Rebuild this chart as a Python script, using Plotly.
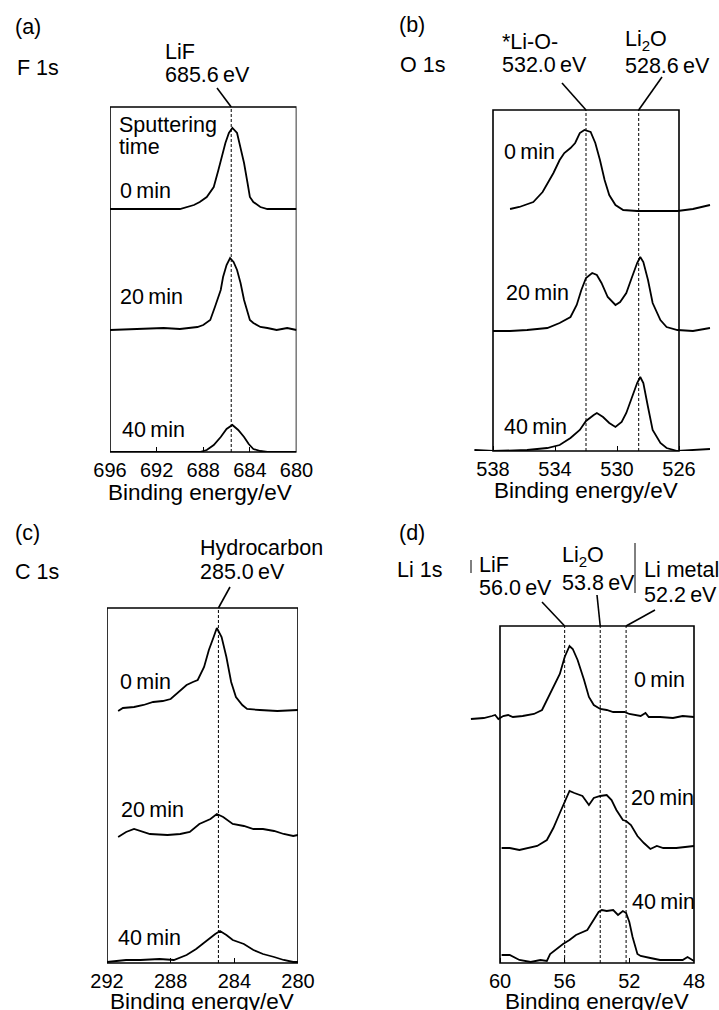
import plotly.graph_objects as go

W, H = 719, 1010
FONT = "Liberation Sans, Arial, sans-serif"

# ---------------- data (binding energy / eV, intensity a.u.) ----------------
times = ["0\u2009min", "20\u2009min", "40\u2009min"]

# (a) F 1s
f1s_0_ev = [696.0, 690.0, 688.8, 688.3, 687.7, 687.1, 686.7, 686.4, 686.1, 685.8, 685.5, 685.1, 684.8,
            684.5, 684.2, 684.0, 683.7, 683.1, 682.5, 680.0]
f1s_0_i = [0, 0, 4, 7, 12, 22, 39, 52, 66, 76, 81, 76, 62, 46, 26, 12, 7, 2, 0, 0]
f1s_20_ev = [696.0, 691.4, 690.0, 688.5, 688.0, 687.4, 687.0, 686.5, 686.3, 686.0, 685.7, 685.4, 685.1,
             684.8, 684.5, 684.2, 684.0, 683.7, 683.1, 682.5, 681.7, 680.8, 680.0]
f1s_20_i = [0, 2, 1, 3, 5, 10, 23, 40, 53, 65, 72, 68, 60, 47, 30, 17, 10, 7, 3, 2, 0, 2, 0]
f1s_40_ev = [696.0, 688.3, 687.7, 687.1, 686.5, 686.0, 685.5, 685.0, 684.5, 684.1, 683.7, 683.1, 682.5, 680.0]
f1s_40_i = [0, 0, 2, 7, 15, 23, 27, 22, 15, 8, 3, 1, 0, 0]
f1s_offsets = [243, 122, 0]
f1s_refs = [685.6]

# (b) O 1s
o1s_0_ev = [536.9, 536.3, 535.4, 534.8, 534.1, 533.7, 533.4, 533.0, 532.7, 532.4, 532.1, 531.7, 531.4,
            531.1, 530.8, 530.5, 530.1, 529.6, 528.7, 527.2, 526.1, 525.1, 524.0]
o1s_0_i = [1, 3, 8, 18, 37, 50, 57, 62, 67, 77, 80, 78, 67, 50, 30, 15, 5, 0, -1, -1, -1, 1, 5]
o1s_20_ev = [538.0, 536.9, 535.8, 534.5, 533.7, 533.0, 532.6, 532.3, 532.0, 531.6, 531.3, 531.0, 530.6,
             530.1, 529.8, 529.4, 529.1, 528.7, 528.5, 528.3, 528.0, 527.7, 527.2, 526.8, 526.1, 525.1, 524.0]
o1s_20_i = [0, 0, 1, 3, 8, 14, 26, 41, 53, 58, 56, 48, 34, 26, 29, 38, 51, 68, 74, 69, 51, 28, 11, 4, 1, 0, 3]
o1s_40_ev = [539.2, 538.0, 535.8, 534.5, 533.7, 533.0, 532.4, 532.0, 531.5, 531.3, 530.9, 530.5, 530.1,
             529.7, 529.4, 529.1, 528.7, 528.5, 528.3, 528.0, 527.7, 527.2, 526.8, 526.1, 525.1, 524.0]
o1s_40_i = [0, -1, 0, 2, 5, 12, 20, 29, 35, 37, 33, 27, 23, 28, 37, 50, 67, 73, 67, 43, 20, 7, 2, -1, 0, 1]
o1s_offsets = [241, 120, 1]
o1s_refs = [532.0, 528.6]

# (c) C 1s
c1s_0_ev = [291.3, 291.0, 290.3, 289.7, 289.1, 288.5, 288.0, 287.6, 287.0, 286.6, 286.3, 285.9, 285.6,
            285.3, 285.1, 284.8, 284.5, 284.2, 283.9, 283.5, 283.2, 282.4, 281.3, 280.0]
c1s_0_i = [-1, 2, 3, 5, 8, 9, 11, 17, 25, 28, 30, 43, 60, 73, 82, 73, 53, 28, 13, 5, 1, 0, -1, 0]
c1s_20_ev = [291.3, 290.8, 290.3, 289.9, 289.3, 288.2, 287.4, 286.8, 286.2, 285.5, 285.1, 284.7, 284.1,
             283.4, 282.8, 282.2, 281.5, 280.9, 280.3, 280.0]
c1s_20_i = [-2, 3, 6, 4, 1, 0, 1, 3, 11, 16, 21, 18, 11, 9, 6, 6, 4, 1, -1, 0]
c1s_40_ev = [292.0, 290.8, 289.9, 288.7, 287.8, 287.0, 286.4, 285.7, 285.2, 284.9, 284.5, 284.1, 283.4,
             282.8, 282.2, 281.5, 280.9, 280.3, 280.0]
c1s_40_i = [0, 2, 2, 3, 2, 7, 13, 22, 28, 31, 27, 22, 18, 12, 8, 5, 2, 0, 0]
c1s_offsets = [253, 128, 1]
c1s_refs = [285.0]

# (d) Li 1s
li1s_0_ev = [61.8, 61.0, 60.5, 60.3, 60.1, 59.8, 59.5, 59.2, 58.6, 57.9, 57.4, 57.1, 56.7, 56.3, 56.0,
             55.7, 55.5, 55.2, 54.8, 54.5, 54.2, 53.8, 53.4, 53.0, 52.3, 52.0, 51.3, 51.0, 50.8, 50.1,
             49.3, 48.7, 48.0]
li1s_0_i = [-2, -1, 1, 2, -2, 1, 2, 0, 1, 3, 7, 17, 30, 43, 60, 71, 68, 57, 37, 20, 12, 8, 7, 5, 5, 3,
            1, 4, 0, 0, -1, 1, 0]
li1s_20_ev = [59.9, 59.4, 58.8, 58.3, 57.7, 57.1, 56.7, 56.3, 56.0, 55.7, 55.4, 54.9, 54.5, 54.2, 53.8,
              53.4, 53.1, 52.8, 52.4, 52.2, 51.9, 51.5, 51.1, 50.7, 50.3, 49.9, 49.1, 48.0]
li1s_20_i = [0, 0, -2, 0, 2, 8, 20, 35, 47, 57, 55, 52, 43, 50, 52, 53, 48, 38, 28, 27, 23, 12, 5, -1,
             2, 0, 0, 2]
li1s_40_ev = [59.9, 59.4, 58.8, 58.1, 57.5, 57.1, 56.9, 56.5, 56.1, 55.7, 55.3, 54.6, 54.2, 53.9, 53.7,
              53.4, 53.0, 52.7, 52.4, 52.2, 52.0, 51.8, 51.5, 51.3, 50.7, 50.1, 49.3, 48.7, 48.4, 48.0]
li1s_40_i = [7, 7, 2, 0, 2, 1, 8, 13, 18, 22, 27, 32, 42, 50, 52, 51, 52, 47, 51, 49, 40, 25, 8, 6, 4,
             2, 2, 2, 5, 1]
li1s_offsets = [246, 115, 1]
li1s_refs = [56.0, 53.8, 52.2]

ticks_a = [696, 692, 688, 684, 680]
ticks_b = [538, 534, 530, 526]
ticks_c = [292, 288, 284, 280]
ticks_d = [60, 56, 52, 48]

# ---------------- layout geometry (pixels) ----------------
panels = [
    dict(sfx="", box_ev=(696, 680), box_px=(110, 296.5), dom_px=(110, 296.5), ytop=107, ybot=452,
         ticks=ticks_a, series=[(f1s_0_ev, f1s_0_i), (f1s_20_ev, f1s_20_i), (f1s_40_ev, f1s_40_i)],
         offsets=f1s_offsets, refs=f1s_refs,
         leaders=[(217, 88)], title_x=200, title_y=492),
    dict(sfx="2", box_ev=(538, 526), box_px=(493, 679), dom_px=(474, 712), ytop=110, ybot=451,
         ticks=ticks_b, series=[(o1s_0_ev, o1s_0_i), (o1s_20_ev, o1s_20_i), (o1s_40_ev, o1s_40_i)],
         offsets=o1s_offsets, refs=o1s_refs,
         leaders=[(562, 83), (662, 77)], title_x=586, title_y=490),
    dict(sfx="3", box_ev=(292, 280), box_px=(107, 298), dom_px=(107, 298), ytop=608, ybot=963,
         ticks=ticks_c, series=[(c1s_0_ev, c1s_0_i), (c1s_20_ev, c1s_20_i), (c1s_40_ev, c1s_40_i)],
         offsets=c1s_offsets, refs=c1s_refs,
         leaders=[(230, 587)], title_x=202, title_y=1001),
    dict(sfx="4", box_ev=(60, 48), box_px=(500, 694), dom_px=(470, 695), ytop=626, ybot=963,
         ticks=ticks_d, series=[(li1s_0_ev, li1s_0_i), (li1s_20_ev, li1s_20_i), (li1s_40_ev, li1s_40_i)],
         offsets=li1s_offsets, refs=li1s_refs,
         leaders=[(542, 602), (597, 595), (655, 610)], title_x=597, title_y=1001),
]


def PX(p):
    return p / W


def PY(p):
    return 1 - p / H


fig = go.Figure()
layout = dict(template="none", width=W, height=H,
              margin=dict(l=0, r=0, t=0, b=0, pad=0, autoexpand=False),
              paper_bgcolor="white", plot_bgcolor="white", showlegend=False,
              font=dict(family=FONT, color="black", size=20))
shapes = []
annotations = []

for p in panels:
    sfx = p["sfx"]
    xa, ya = "x" + sfx, "y" + sfx
    (e0, e1), (b0, b1), (d0, d1) = p["box_ev"], p["box_px"], p["dom_px"]
    scale = (b1 - b0) / (e0 - e1)
    r0 = e0 + (b0 - d0) / scale
    r1 = e1 - (d1 - b1) / scale
    dom_x = [PX(d0), PX(d1)]
    dom_y = [PY(p["ybot"]), PY(p["ytop"])]
    hgt = p["ybot"] - p["ytop"]

    layout["xaxis" + sfx] = dict(domain=dom_x, range=[r0, r1], anchor=ya, tickmode="array",
                                 tickvals=p["ticks"], ticktext=[str(t) for t in p["ticks"]],
                                 ticks="inside", ticklen=5, tickwidth=1, tickcolor="black",
                                 showline=False, showgrid=False, zeroline=False, automargin=False,
                                 tickfont=dict(size=20, family=FONT, color="black"),
                                 ticklabelstandoff=4, fixedrange=True)
    layout["yaxis" + sfx] = dict(domain=dom_y, range=[0, hgt], anchor=xa, visible=False,
                                 automargin=False, fixedrange=True)

    for (ev, inten), off in zip(p["series"], p["offsets"]):
        fig.add_trace(go.Scatter(x=ev, y=[v + off for v in inten], mode="lines",
                                 line=dict(color="black", width=1.8), xaxis=xa, yaxis=ya,
                                 hoverinfo="skip"))

    # frame
    shapes.append(dict(type="rect", xref=xa, yref=ya + " domain", x0=e0, x1=e1, y0=0, y1=1,
                       line=dict(color="black", width=1.6), layer="above"))

    def ev2paper(ev):
        return dom_x[0] + (ev - r0) / (r1 - r0) * (dom_x[1] - dom_x[0])

    for ev, (lx, ly) in zip(p["refs"], p["leaders"]):
        shapes.append(dict(type="line", xref=xa, yref=ya + " domain", x0=ev, x1=ev, y0=0, y1=1,
                           line=dict(color="black", width=1, dash="3px,2px")))
        shapes.append(dict(type="line", xref="paper", yref="paper", x0=PX(lx), y0=PY(ly),
                           x1=ev2paper(ev), y1=dom_y[1], line=dict(color="black", width=1.6)))

    annotations.append(dict(text="Binding energy/eV", x=PX(p["title_x"]), y=PY(p["title_y"]),
                            xref="paper", yref="paper", xanchor="center", yanchor="middle",
                            showarrow=False, font=dict(size=22.5)))

# extra thin marks in (d)
shapes.append(dict(type="line", xref="paper", yref="paper", x0=PX(471), x1=PX(471), y0=PY(560), y1=PY(573),
                   line=dict(color="black", width=1)))
shapes.append(dict(type="line", xref="paper", yref="paper", x0=PX(635), x1=PX(635), y0=PY(543), y1=PY(593),
                   line=dict(color="black", width=1)))

labels = [
    ("(a)", 13, 27), ("F 1s", 15, 68), ("LiF", 163, 52), ("685.6\u2009eV", 163, 75),
    ("Sputtering", 117, 125), ("time", 117, 147),
    (times[0], 118, 191), (times[1], 118, 297), (times[2], 120, 430),
    ("(b)", 397, 25), ("O 1s", 398, 65), ("*Li-O-", 500, 42), ("532.0\u2009eV", 500, 65),
    ("Li<sub>2</sub>O", 623, 40), ("528.6\u2009eV", 623, 66),
    (times[0], 502, 152), (times[1], 504, 293), (times[2], 502, 427),
    ("(c)", 13, 533), ("C 1s", 13, 572), ("Hydrocarbon", 198, 548), ("285.0\u2009eV", 198, 572),
    (times[0], 118, 682), (times[1], 119, 810), (times[2], 116, 938),
    ("(d)", 397, 533), ("Li 1s", 395, 570), ("LiF", 477, 565), ("56.0\u2009eV", 477, 588),
    ("Li<sub>2</sub>O", 560, 556), ("53.8\u2009eV", 560, 583),
    ("Li metal", 642, 570), ("52.2\u2009eV", 642, 595),
    (times[0], 632, 680), (times[1], 629, 798), (times[2], 630, 902),
]
for txt, x, y in labels:
    annotations.append(dict(text=txt, x=PX(x), y=PY(y), xref="paper", yref="paper", xanchor="left",
                            yanchor="middle", showarrow=False, font=dict(size=21.5)))

layout["shapes"] = shapes
layout["annotations"] = annotations
fig.update_layout(**layout)
fig.write_html("out.html")
